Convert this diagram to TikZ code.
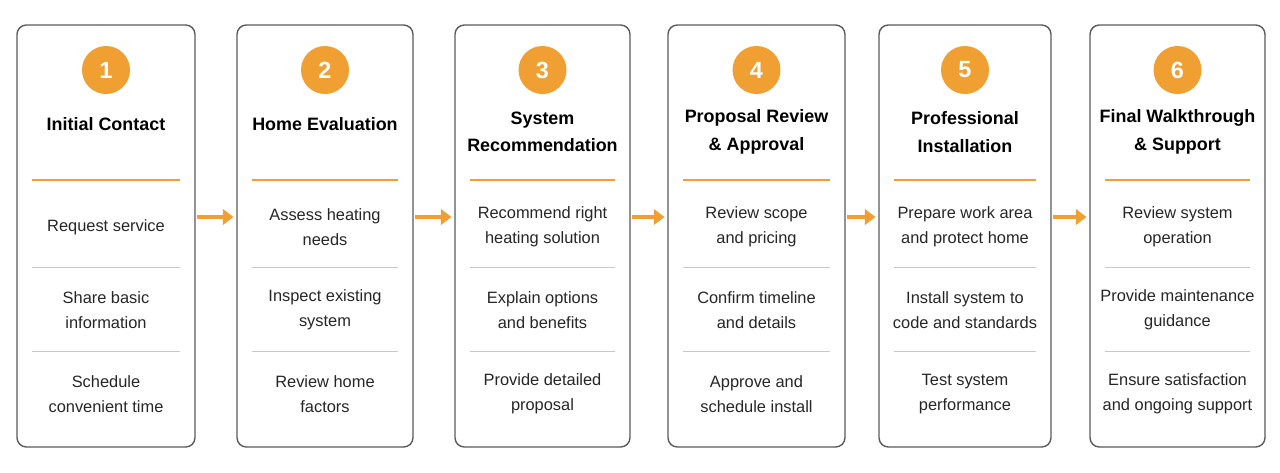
\documentclass[tikz,border=0pt]{standalone}
\usepackage{fontspec}
\setmainfont{Liberation Sans}
\usetikzlibrary{positioning,arrows.meta}
\definecolor{steporange}{RGB}{240,160,50}
\definecolor{cardborder}{RGB}{90,90,90}
\definecolor{dividergray}{RGB}{200,200,200}
\tikzset{
  card/.style={draw=cardborder, line width=1.2pt, rounded corners=8pt, fill=white},
  stepnum/.style={circle, fill=steporange, text=white, minimum size=1.44cm, inner sep=0, font=\bfseries\fontsize{20}{20}\selectfont},
  steptitle/.style={align=center, font=\bfseries\fontsize{15.3}{23.5}\selectfont, text=black},
  stepitem/.style={align=center, font=\fontsize{14}{21.5}\selectfont, text=black!85},
  steparrow/.style={-{Triangle[length=9pt,width=13pt]}, draw=steporange, line width=3.4pt}
}
\begin{document}
\begin{tikzpicture}[x=0.03cm, y=-0.03cm]
  \useasboundingbox (0,0) rectangle (1280,472);
  % cards
  \foreach \i/\xl/\xr/\ty/\ttl/\ia/\ib/\ic in {
    1/17/195/124/{Initial Contact}/{Request service}/{Share basic\\information}/{Schedule\\convenient time},
    2/237/413/124/{Home Evaluation}/{Assess heating\\needs}/{Inspect existing\\system}/{Review home\\factors},
    3/455/630/132/{System\\Recommendation}/{Recommend right\\heating solution}/{Explain options\\and benefits}/{Provide detailed\\proposal},
    4/668/845/132/{Proposal Review\\\& Approval}/{Review scope\\and pricing}/{Confirm timeline\\and details}/{Approve and\\schedule install},
    5/879/1051/132/{Professional\\Installation}/{Prepare work area\\and protect home}/{Install system to\\code and standards}/{Test system\\performance},
    6/1090/1265/132/{Final Walkthrough\\\& Support}/{Review system\\operation}/{Provide maintenance\\guidance}/{Ensure satisfaction\\and ongoing support}}{
    \pgfmathsetmacro{\xm}{(\xl+\xr)/2}
    \draw[card] (\xl,25) rectangle (\xr,447);
    \coordinate (c\i) at (\xr,217);
    \coordinate (d\i) at (\xl,217);
    \node[stepnum] (num\i) at (\xm,70) {\i};
    \node[steptitle] (title\i) at (\xm,\ty) {\ttl};
    \draw[steporange, line width=1.2pt] (\xl+15,180) -- (\xr-15,180);
    \node[stepitem] (itema\i) at (\xm,227) {\ia};
    \draw[dividergray, line width=0.8pt] (\xl+15,267) -- (\xr-15,267);
    \node[stepitem] (itemb\i) at (\xm,310) {\ib};
    \draw[dividergray, line width=0.8pt] (\xl+15,351) -- (\xr-15,351);
    \node[stepitem] (itemc\i) at (\xm,394) {\ic};
  }
  % arrows between cards
  \foreach \a/\b in {1/2,2/3,3/4,4/5,5/6}{
    \draw[steparrow] ([xshift=2]c\a) -- ([xshift=-3]d\b);
  }
\end{tikzpicture}
\end{document}
